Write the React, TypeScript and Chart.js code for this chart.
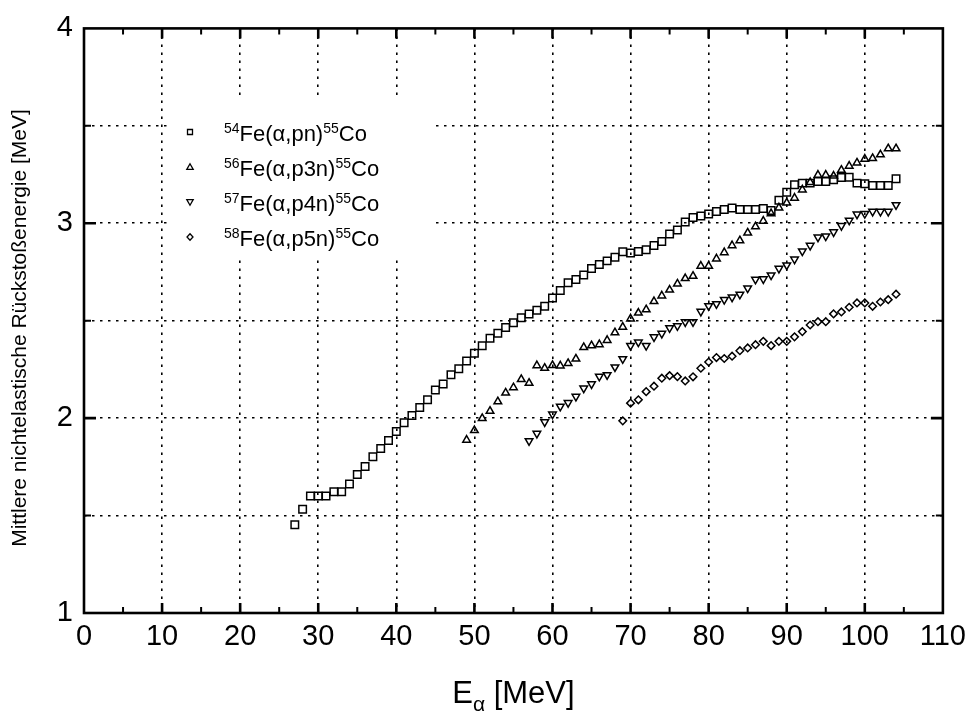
import React, { useEffect, useRef } from "react";
import { Chart, registerables } from "chart.js";

Chart.register(...registerables);

// 54Fe(α,pn)55Co
const xPn = [27,28,29,30,31,32,33,34,35,36,37,38,39,40,41,42,43,44,45,46,47,48,49,50,51,52,53,54,55,56,57,58,59,60,61,62,63,64,65,66,67,68,69,70,71,72,73,74,75,76,77,78,79,80,81,82,83,84,85,86,87,88,89,90,91,92,93,94,95,96,97,98,99,100,101,102,103,104];
const yPn = [1.453,1.532,1.600,1.600,1.600,1.622,1.622,1.662,1.711,1.752,1.802,1.844,1.885,1.932,1.976,2.013,2.055,2.094,2.144,2.175,2.223,2.254,2.293,2.333,2.372,2.410,2.436,2.465,2.490,2.515,2.535,2.554,2.574,2.616,2.655,2.695,2.712,2.734,2.768,2.788,2.807,2.825,2.854,2.847,2.855,2.864,2.886,2.906,2.945,2.965,3.007,3.029,3.037,3.048,3.061,3.071,3.078,3.071,3.071,3.071,3.076,3.066,3.118,3.159,3.198,3.206,3.206,3.214,3.214,3.223,3.235,3.236,3.206,3.203,3.194,3.194,3.194,3.228];

// 56Fe(α,p3n)55Co
const xP3n = [49,50,51,52,53,54,55,56,57,58,59,60,61,62,63,64,65,66,67,68,69,70,71,72,73,74,75,76,77,78,79,80,81,82,83,84,85,86,87,88,89,90,91,92,93,94,95,96,97,98,99,100,101,102,103,104];
const yP3n = [1.888,1.937,1.999,2.036,2.085,2.130,2.157,2.199,2.180,2.270,2.257,2.271,2.269,2.281,2.304,2.363,2.372,2.378,2.400,2.439,2.468,2.510,2.540,2.557,2.599,2.628,2.658,2.689,2.717,2.729,2.781,2.781,2.818,2.850,2.886,2.911,2.951,2.983,3.012,3.050,3.080,3.105,3.130,3.172,3.210,3.248,3.248,3.243,3.273,3.294,3.310,3.330,3.333,3.352,3.383,3.383];

// 57Fe(α,p4n)55Co
const xP4n = [57,58,59,60,61,62,63,64,65,66,67,68,69,70,71,72,73,74,75,76,77,78,79,80,81,82,83,84,85,86,87,88,89,90,91,92,93,94,95,96,97,98,99,100,101,102,103,104];
const yP4n = [1.883,1.921,1.980,2.020,2.060,2.079,2.111,2.153,2.175,2.214,2.222,2.262,2.304,2.372,2.390,2.372,2.416,2.434,2.463,2.473,2.493,2.494,2.547,2.576,2.586,2.608,2.620,2.635,2.667,2.712,2.714,2.734,2.768,2.785,2.815,2.857,2.886,2.928,2.934,2.955,2.987,3.015,3.046,3.049,3.060,3.060,3.060,3.094];

// 58Fe(α,p5n)55Co
const xP5n = [69,70,71,72,73,74,75,76,77,78,79,80,81,82,83,84,85,86,87,88,89,90,91,92,93,94,95,96,97,98,99,100,101,102,103,104];
const yP5n = [1.986,2.077,2.094,2.136,2.164,2.205,2.218,2.213,2.191,2.212,2.256,2.288,2.311,2.306,2.318,2.346,2.360,2.377,2.394,2.372,2.394,2.394,2.417,2.444,2.478,2.495,2.495,2.535,2.545,2.569,2.591,2.591,2.574,2.596,2.608,2.636];

const legendMass = ["54", "56", "57", "58"];
const legendReaction = ["Fe(α,pn)", "Fe(α,p3n)", "Fe(α,p4n)", "Fe(α,p5n)"];
const legendProduct = ["55", "55", "55", "55"];
const legendElement = ["Co", "Co", "Co", "Co"];

const xTitleMain = "E";
const xTitleSub = "α";
const xTitleUnit = " [MeV]";
const yTitle = "Mittlere nichtelastische Rückstoßenergie [MeV]";

const FONT = "'Liberation Sans', Arial, Helvetica, sans-serif";

const toPoints = (xs: number[], ys: number[]) => xs.map((x, i) => ({ x, y: ys[i] }));

const decorPlugin = {
  id: "decor",
  afterDraw(chart: any) {
    const { ctx, chartArea: a } = chart;
    const xs = chart.scales.x;
    const ys = chart.scales.y;
    ctx.save();
    ctx.strokeStyle = "#000";
    ctx.fillStyle = "#000";
    // tick marks (inward)
    for (let v = 5; v < 110; v += 5) {
      const px = xs.getPixelForValue(v);
      const major = v % 10 === 0;
      const len = major ? 10 : 6;
      ctx.lineWidth = major ? 2.6 : 2;
      ctx.beginPath();
      ctx.moveTo(px, a.bottom);
      ctx.lineTo(px, a.bottom - len);
      ctx.moveTo(px, a.top);
      ctx.lineTo(px, a.top + len);
      ctx.stroke();
    }
    for (let v = 1.5; v < 4; v += 0.5) {
      const py = ys.getPixelForValue(v);
      const major = Math.abs(v - Math.round(v)) < 1e-6;
      const len = major ? 12 : 7;
      ctx.lineWidth = major ? 2.6 : 2;
      ctx.beginPath();
      ctx.moveTo(a.left, py);
      ctx.lineTo(a.left + len, py);
      ctx.moveTo(a.right, py);
      ctx.lineTo(a.right - len, py);
      ctx.stroke();
    }
    // frame
    ctx.lineWidth = 2.6;
    ctx.strokeRect(a.left, a.top, a.right - a.left, a.bottom - a.top);

    // legend
    ctx.fillStyle = "#fff";
    ctx.fillRect(168, 96, 266, 162);
    ctx.fillStyle = "#000";
    ctx.lineWidth = 1.3;
    const rows = [132, 167, 202, 237];
    rows.forEach((cy, i) => {
      const mx = 190;
      ctx.beginPath();
      if (i === 0) {
        ctx.rect(mx - 2.5, cy - 2.5, 5, 5);
      } else if (i === 1) {
        ctx.moveTo(mx, cy - 3.2);
        ctx.lineTo(mx + 3.2, cy + 2.4);
        ctx.lineTo(mx - 3.2, cy + 2.4);
        ctx.closePath();
      } else if (i === 2) {
        ctx.moveTo(mx, cy + 3.2);
        ctx.lineTo(mx + 3.2, cy - 2.4);
        ctx.lineTo(mx - 3.2, cy - 2.4);
        ctx.closePath();
      } else {
        ctx.moveTo(mx, cy - 3.3);
        ctx.lineTo(mx + 3, cy);
        ctx.lineTo(mx, cy + 3.3);
        ctx.lineTo(mx - 3, cy);
        ctx.closePath();
      }
      ctx.stroke();
      ctx.textBaseline = "alphabetic";
      ctx.textAlign = "left";
      let tx = 224;
      ctx.font = `14px ${FONT}`;
      ctx.fillText(legendMass[i], tx, cy + 0.5);
      tx += ctx.measureText(legendMass[i]).width;
      ctx.font = `22px ${FONT}`;
      ctx.fillText(legendReaction[i], tx, cy + 9);
      tx += ctx.measureText(legendReaction[i]).width;
      ctx.font = `14px ${FONT}`;
      ctx.fillText(legendProduct[i], tx, cy + 0.5);
      tx += ctx.measureText(legendProduct[i]).width;
      ctx.font = `22px ${FONT}`;
      ctx.fillText(legendElement[i], tx, cy + 9);
    });

    // x title with subscript
    ctx.font = `31px ${FONT}`;
    const wE = ctx.measureText(xTitleMain).width;
    const wU = ctx.measureText(xTitleUnit).width;
    ctx.font = `21px ${FONT}`;
    const wA = ctx.measureText(xTitleSub).width;
    const cx = (a.left + a.right) / 2;
    let sx = cx - (wE + wA + wU) / 2;
    const base = 703;
    ctx.font = `31px ${FONT}`;
    ctx.fillText(xTitleMain, sx, base);
    sx += wE;
    ctx.font = `21px ${FONT}`;
    ctx.fillText(xTitleSub, sx, base + 8);
    sx += wA;
    ctx.font = `31px ${FONT}`;
    ctx.fillText(xTitleUnit, sx, base);

    // y title
    ctx.save();
    ctx.translate(20, 328);
    ctx.rotate(-Math.PI / 2);
    ctx.textAlign = "center";
    ctx.textBaseline = "middle";
    ctx.font = `21px ${FONT}`;
    ctx.fillText(yTitle, 0, 0);
    ctx.restore();

    ctx.restore();
  },
};

export default function App() {
  const ref = useRef<HTMLCanvasElement | null>(null);
  useEffect(() => {
    if (!ref.current) return;
    const common = {
      borderColor: "#000",
      backgroundColor: "rgba(0,0,0,0)",
      borderWidth: 1.5,
      showLine: false,
    };
    const chart = new Chart(ref.current, {
      type: "scatter",
      data: {
        datasets: [
          { ...common, label: "54Fe(α,pn)55Co", data: toPoints(xPn, yPn), pointStyle: "rect", pointRadius: 5.3 },
          { ...common, label: "56Fe(α,p3n)55Co", data: toPoints(xP3n, yP3n), pointStyle: "triangle", pointRadius: 4.4 },
          { ...common, label: "57Fe(α,p4n)55Co", data: toPoints(xP4n, yP4n), pointStyle: "triangle", rotation: 180, pointRadius: 4.4 },
          { ...common, label: "58Fe(α,p5n)55Co", data: toPoints(xP5n, yP5n), pointStyle: "rectRot", pointRadius: 3.8 },
        ],
      },
      options: {
        responsive: false,
        animation: false,
        events: [],
        layout: { padding: { left: 0, right: 29, top: 19.5, bottom: 0 } },
        plugins: { legend: { display: false }, tooltip: { enabled: false } },
        scales: {
          x: {
            type: "linear",
            min: 0,
            max: 110,
            afterFit: (s: any) => { s.height = 103; },
            ticks: {
              stepSize: 5,
              autoSkip: false,
              maxRotation: 0,
              padding: 7,
              color: "#000",
              font: { family: FONT, size: 29 },
              callback: (v: any) => (Number(v) % 10 === 0 ? String(v) : ""),
            },
            grid: {
              drawTicks: false,
              color: (c: any) => {
                const v = c.tick ? c.tick.value : 0;
                return v % 10 === 0 && v > 0 && v < 110 ? "#000" : "rgba(0,0,0,0)";
              },
              lineWidth: 1.6,
            },
            border: { display: false, dash: [2.5, 5.5] },
          },
          y: {
            type: "linear",
            min: 1,
            max: 4,
            afterFit: (s: any) => { s.width = 84; },
            ticks: {
              stepSize: 0.5,
              autoSkip: false,
              padding: 11,
              color: "#000",
              font: { family: FONT, size: 29 },
              callback: (v: any) => (Number.isInteger(Number(v)) ? String(v) : ""),
            },
            grid: {
              drawTicks: false,
              color: (c: any) => {
                const v = c.tick ? c.tick.value : 1;
                return v > 1 && v < 4 ? "#000" : "rgba(0,0,0,0)";
              },
              lineWidth: 1.6,
            },
            border: { display: false, dash: [2.5, 5.5] },
          },
        },
      },
      plugins: [decorPlugin],
    });
    return () => chart.destroy();
  }, []);
  return (
    <div style={{ position: "absolute", left: 0, top: 0, width: 973, height: 716, background: "#fff" }}>
      <canvas ref={ref} width={973} height={716} style={{ width: 973, height: 716, display: "block" }} />
    </div>
  );
}
